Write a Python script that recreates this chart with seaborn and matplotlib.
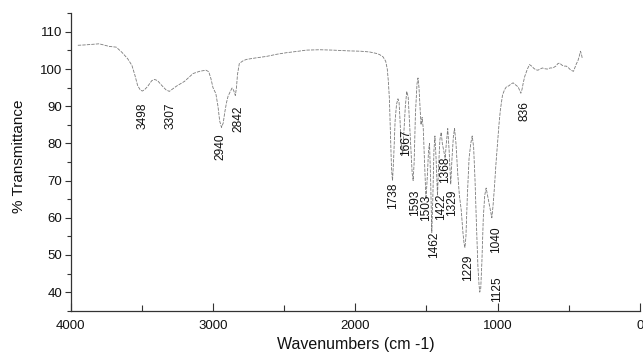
import matplotlib
matplotlib.use("Agg")
import matplotlib.pyplot as plt
from matplotlib.ticker import MultipleLocator
import seaborn as sns
import pandas as pd

# ---- spectrum (wavenumber cm-1, % transmittance) ----
wavenumber = [
    3950, 3900, 3800, 3730, 3680, 3640, 3600, 3570, 3550, 3530, 3510, 3496, 3480, 3460,
    3430, 3410, 3390, 3360, 3330, 3307, 3285, 3257, 3200, 3140, 3094, 3050, 3030, 3015,
    3000, 2980, 2965, 2953, 2940, 2928, 2918, 2905, 2894, 2878, 2866, 2855, 2843, 2835,
    2828, 2815, 2790, 2765, 2700, 2625, 2550, 2484, 2400, 2344, 2250, 2157, 2050, 1960,
    1899, 1850, 1829, 1805, 1786, 1775, 1768, 1760, 1752, 1745, 1738, 1730, 1720, 1710,
    1700, 1692, 1685, 1678, 1667, 1658, 1648, 1638, 1628, 1618, 1608, 1600, 1593, 1586,
    1577, 1566, 1559, 1552, 1545, 1538, 1530, 1522, 1512, 1503, 1495, 1485, 1478, 1470,
    1462, 1455, 1447, 1440, 1432, 1422, 1414, 1405, 1396, 1388, 1378, 1368, 1360, 1350,
    1340, 1329, 1320, 1310, 1302, 1292, 1280, 1268, 1255, 1243, 1235, 1229, 1222, 1212,
    1200, 1188, 1178, 1168, 1158, 1148, 1138, 1130, 1125, 1118, 1110, 1100, 1090, 1080,
    1070, 1060, 1050, 1040, 1032, 1022, 1012, 1000, 990, 980, 965, 950, 938, 920,
    905, 890, 875, 855, 845, 836, 828, 818, 808, 790, 775, 760, 745, 730,
    716, 700, 685, 669, 650, 630, 611, 590, 575, 564, 545, 530, 517, 500,
    485, 466, 455, 445, 436, 425, 417, 410, 405,
]
transmittance = [
    106.4, 106.5, 106.8, 106.1, 105.9, 104.5, 102.8, 101.0, 98.5, 95.6, 94.3, 94.1, 94.5, 95.3,
    96.9, 97.2, 96.9, 95.6, 94.4, 94.0, 94.6, 95.4, 96.7, 98.8, 99.4, 99.7, 99.3, 97.5,
    95.0, 93.4, 90.0, 86.0, 84.3, 85.5, 88.2, 91.0, 92.7, 94.0, 94.9, 94.3, 92.9, 95.0,
    98.5, 101.5, 102.2, 102.6, 103.0, 103.4, 104.0, 104.4, 104.8, 105.1, 105.2, 105.1, 104.9, 104.8,
    104.6, 104.2, 103.9, 103.3, 102.1, 100.0, 97.0, 92.0, 82.0, 73.0, 70.0, 76.0, 86.0, 90.5,
    92.0, 91.0, 86.0, 80.0, 77.0, 83.0, 90.0, 94.0, 92.5, 85.0, 78.0, 72.0, 70.0, 75.0,
    88.0, 96.0, 97.6, 95.0, 90.0, 85.0, 87.0, 84.0, 74.0, 65.0, 70.0, 78.0, 80.0, 70.0,
    56.0, 65.0, 78.0, 82.0, 76.0, 66.0, 74.0, 81.0, 83.0, 80.0, 78.0, 76.0, 80.0, 84.0,
    78.0, 69.0, 76.0, 82.0, 84.0, 80.0, 72.0, 66.0, 62.0, 56.0, 53.0, 52.0, 55.0, 66.0,
    76.0, 80.0, 82.0, 79.0, 70.0, 58.0, 47.0, 42.0, 40.0, 41.0, 48.0, 60.0, 66.0, 68.0,
    66.0, 64.0, 62.0, 60.0, 63.0, 68.0, 74.0, 80.0, 85.0, 89.0, 93.0, 94.5, 95.2, 95.5,
    96.0, 96.3, 95.8, 95.2, 94.3, 93.5, 94.5, 96.5, 98.1, 100.0, 101.2, 100.8, 100.2, 99.8,
    99.7, 100.0, 100.3, 100.1, 100.0, 100.3, 100.3, 100.8, 101.5, 101.6, 101.0, 100.8, 100.8, 100.3,
    99.7, 99.4, 100.5, 101.5, 102.1, 103.5, 104.8, 104.0, 103.0,
]

# ---- peak labels: text, label x (cm-1), label top (%T) ----
peak_labels = ["3498", "3307", "2940", "2842", "1738", "1667", "1593", "1503",
               "1462", "1422", "1368", "1329", "1229", "1125", "1040", "836"]
label_x = [3496, 3301, 2945, 2824, 1737, 1643, 1577, 1500,
           1446, 1397, 1368, 1322, 1206, 1003, 1010, 808]
label_top = [91.0, 91.0, 82.8, 90.2, 69.4, 83.7, 67.6, 66.3,
             56.4, 66.4, 76.6, 67.6, 50.1, 44.3, 57.7, 91.3]

x_ticks = [4000, 3000, 2000, 1000, 0]
y_ticks = [40, 50, 60, 70, 80, 90, 100, 110]

df = pd.DataFrame({"wn": wavenumber, "T": transmittance})

sns.set_style("ticks")
plt.rcParams["font.family"] = ["Liberation Sans", "DejaVu Sans"]

fig = plt.figure(figsize=(6.43, 3.57), dpi=100)
ax = fig.add_axes([0.110, 0.1297, 0.885, 0.833])

sns.lineplot(data=df, x="wn", y="T", sort=False, estimator=None, ax=ax,
             color="#7a7a7a", linewidth=0.6, linestyle=(0, (4, 1.4)))

for t, lx, ly in zip(peak_labels, label_x, label_top):
    ax.text(lx, ly, t, rotation=90, ha="center", va="top", fontsize=8.6, color="#111111")

ax.set_xlim(4000, 0)
ax.set_ylim(35, 115)
ax.set_xticks(x_ticks)
ax.set_yticks(y_ticks)
ax.xaxis.set_minor_locator(MultipleLocator(500))
ax.yaxis.set_minor_locator(MultipleLocator(5))

for s in ["top", "right"]:
    ax.spines[s].set_visible(False)
for s in ["left", "bottom"]:
    ax.spines[s].set_color("#333333")
    ax.spines[s].set_linewidth(0.9)

ax.tick_params(axis="x", which="major", direction="in", length=6, width=0.8,
               color="#333333", pad=7, labelsize=9.5, labelcolor="#111111")
ax.tick_params(axis="x", which="minor", direction="in", length=4, width=0.8, color="#333333")
ax.tick_params(axis="y", which="major", direction="out", length=4.5, width=0.8,
               color="#333333", pad=1.5, labelsize=9.5, labelcolor="#111111")
ax.tick_params(axis="y", which="minor", direction="out", length=2.7, width=0.8, color="#333333")

ax.set_xlabel("Wavenumbers (cm -1)", fontsize=11.5, color="#111111")
ax.set_ylabel("% Transmittance", fontsize=11, color="#111111")
ax.xaxis.set_label_coords(0.501, -0.088)
ax.yaxis.set_label_coords(-0.078, 0.52)

fig.savefig("out.png", dpi=100)
